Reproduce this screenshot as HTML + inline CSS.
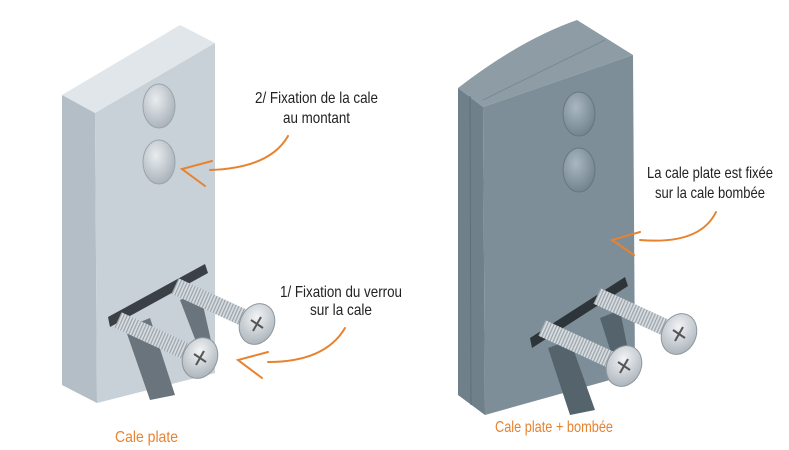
<!DOCTYPE html>
<html><head><meta charset="utf-8"><style>
html,body{margin:0;padding:0;background:#fff;width:789px;height:450px;overflow:hidden}
svg{display:block}
text{font-family:"Liberation Sans",sans-serif;font-size:16px;fill:#222}
.o{fill:#e8822e}
</style></head><body>
<svg width="789" height="450" viewBox="0 0 789 450">
<defs>
<pattern id="th" width="3" height="20" patternUnits="userSpaceOnUse" patternTransform="rotate(24)">
<rect width="3" height="20" fill="#d7dce0"/><rect width="1.2" height="20" fill="#9aa3aa"/>
</pattern>
<radialGradient id="hd" cx="40%" cy="35%" r="70%"><stop offset="0" stop-color="#f2f4f6"/><stop offset="1" stop-color="#aab3ba"/></radialGradient>
<radialGradient id="bm" cx="40%" cy="35%" r="70%"><stop offset="0" stop-color="#e8ecef"/><stop offset="1" stop-color="#a7b0b7"/></radialGradient>
<radialGradient id="bm2" cx="40%" cy="35%" r="70%"><stop offset="0" stop-color="#a9b7c0"/><stop offset="1" stop-color="#6f818c"/></radialGradient>
<g id="screw">
<line x1="0" y1="0" x2="78" y2="36" stroke="url(#th)" stroke-width="17"/>
<ellipse cx="82" cy="38" rx="17" ry="21" transform="rotate(25 82 38)" fill="url(#hd)" stroke="#8d969d" stroke-width="1"/>
<path d="M76 34 L88 42 M86 31 L78 45" stroke="#555" stroke-width="2"/>
</g>
</defs>

<!-- LEFT BLOCK -->
<polygon points="62,95 180,25 215,43 95,113" fill="#e1e6ea"/>
<polygon points="62,95 95,113 97,403 62,385" fill="#b4bec6"/>
<polygon points="95,113 215,43 215,373 97,403" fill="#c8d1d8"/>
<ellipse cx="159" cy="106" rx="16" ry="22" fill="url(#bm)" stroke="#9aa4ab"/>
<ellipse cx="159" cy="162" rx="16" ry="22" fill="url(#bm)" stroke="#9aa4ab"/>
<polygon points="108,317 205,264 208,273 110,327" fill="#3a4046"/>
<polygon points="125,328 150,318 175,395 150,400" fill="#6a747c"/>
<polygon points="180,300 200,292 212,345 200,352" fill="#6a747c"/>
<use href="#screw" x="175" y="286"/>
<use href="#screw" x="118" y="320"/>

<!-- RIGHT BLOCK -->
<path d="M458,88 Q520,40 577,20 L633,55 L483,107 Z" fill="#8d9ca5"/>
<line x1="483" y1="100" x2="605" y2="40" stroke="#7a8a94"/>
<polygon points="458,88 483,107 485,415 458,395" fill="#6f808a"/>
<polygon points="483,107 633,55 635,373 485,415" fill="#7e8e98"/>
<line x1="470" y1="96" x2="471" y2="405" stroke="#5f6f79"/>
<ellipse cx="579" cy="114" rx="16" ry="22" fill="url(#bm2)" stroke="#667782"/>
<ellipse cx="579" cy="170" rx="16" ry="22" fill="url(#bm2)" stroke="#667782"/>
<polygon points="530,338 625,277 628,286 532,348" fill="#2e353a"/>
<polygon points="548,348 570,340 595,410 570,415" fill="#55636c"/>
<polygon points="600,318 620,310 632,370 618,375" fill="#55636c"/>
<use href="#screw" x="597" y="296"/>
<use href="#screw" x="542" y="328"/>

<!-- LABELS -->
<text x="255" y="103" textLength="123" lengthAdjust="spacingAndGlyphs">2/ Fixation de la cale</text>
<text x="283" y="123" textLength="67" lengthAdjust="spacingAndGlyphs">au montant</text>
<text x="280" y="297" textLength="122" lengthAdjust="spacingAndGlyphs">1/ Fixation du verrou</text>
<text x="310" y="315" textLength="62" lengthAdjust="spacingAndGlyphs">sur la cale</text>
<text x="647" y="178" textLength="126" lengthAdjust="spacingAndGlyphs">La cale plate est fixée</text>
<text x="655" y="198" textLength="110" lengthAdjust="spacingAndGlyphs">sur la cale bombée</text>
<text class="o" x="115" y="442" textLength="63" lengthAdjust="spacingAndGlyphs">Cale plate</text>
<text class="o" x="495" y="432" textLength="118" lengthAdjust="spacingAndGlyphs">Cale plate + bombée</text>

<!-- ARROWS -->
<g fill="none" stroke="#e8822e" stroke-width="2" stroke-linecap="round">
<path d="M288,136 Q270,168 210,170"/>
<path d="M212,161 L182,169 L205,186"/>
<path d="M345,328 Q325,362 268,362"/>
<path d="M268,352 L238,360 L262,378"/>
<path d="M716,212 Q700,245 640,240"/>
<path d="M640,232 L612,240 L634,255"/>
</g>
</svg>
</body></html>
